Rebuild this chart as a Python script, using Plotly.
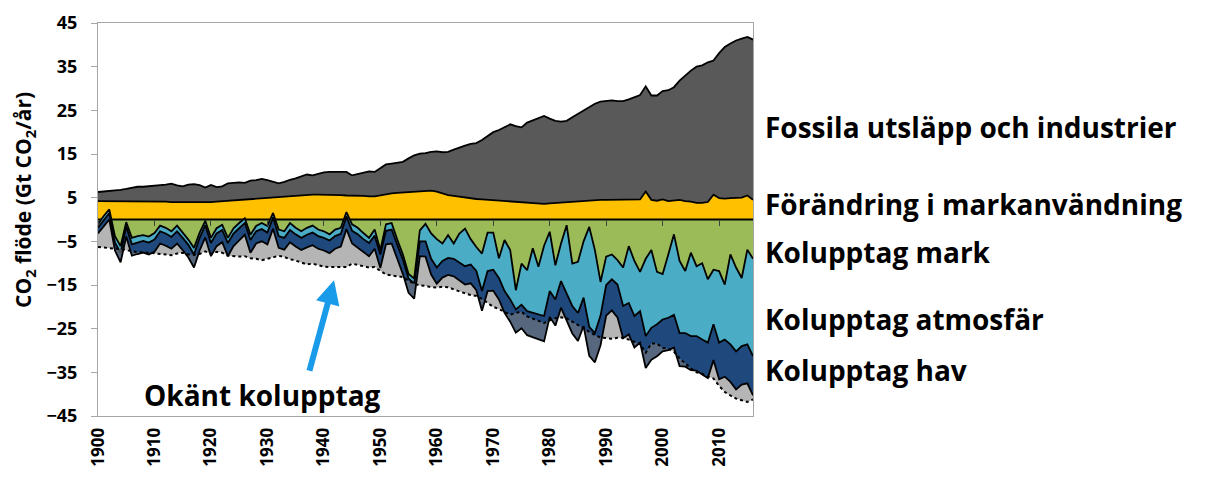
import numpy as np
import plotly.graph_objects as go

years = list(range(1900, 2017))

# Sources (Gt CO2 / year)
fossil = [
    2.1, 2.2, 2.3, 2.5, 2.6, 2.8, 3.0, 3.3, 3.3, 3.5,
    3.7, 3.7, 3.9, 4.2, 3.8, 3.6, 4.1, 4.2, 4.0, 3.4,
    3.9, 3.3, 3.4, 4.0, 4.0, 4.0, 3.8, 4.2, 4.2, 4.4,
    4.0, 3.5, 3.1, 3.3, 3.7, 3.9, 4.3, 4.7, 4.4, 4.8,
    5.1, 5.2, 5.3, 5.4, 5.4, 4.6, 5.0, 5.4, 5.7, 5.6,
    6.3, 6.8, 6.8, 6.9, 7.0, 7.7, 8.3, 8.6, 8.6, 8.9,
    9.2, 9.4, 9.9, 10.6, 11.3, 11.9, 12.4, 12.8, 13.6, 14.6,
    15.6, 16.2, 16.9, 17.7, 17.4, 17.2, 18.4, 19.0, 19.4, 20.1,
    19.4, 18.8, 18.5, 18.6, 19.3, 20.0, 20.6, 21.2, 22.1, 22.5,
    22.7, 22.8, 22.5, 22.5, 22.9, 23.4, 23.9, 24.1, 23.9, 24.1,
    24.8, 25.4, 25.9, 27.3, 28.8, 30.0, 31.2, 31.5, 32.0, 30.7,
    33.2, 34.7, 35.4, 36.1, 36.4, 36.3, 36.7,
]
land_use_change = [
    4.2, 4.2, 4.2, 4.2, 4.2, 4.2, 4.2, 4.2, 4.2, 4.1,
    4.1, 4.1, 4.1, 4.0, 4.0, 4.0, 3.9, 3.9, 3.9, 3.9,
    4.0, 4.1, 4.2, 4.3, 4.4, 4.5, 4.6, 4.7, 4.8, 4.9,
    5.0, 5.1, 5.2, 5.3, 5.4, 5.5, 5.6, 5.6, 5.7, 5.7,
    5.7, 5.7, 5.6, 5.6, 5.5, 5.5, 5.4, 5.4, 5.3, 5.3,
    5.5, 5.8, 6.0, 6.1, 6.2, 6.3, 6.4, 6.5, 6.6, 6.6,
    6.4, 6.0, 5.6, 5.4, 5.2, 5.0, 4.9, 4.7, 4.6, 4.5,
    4.4, 4.3, 4.2, 4.1, 4.0, 3.9, 3.8, 3.7, 3.7, 3.6,
    3.7, 3.8, 3.9, 4.0, 4.1, 4.2, 4.3, 4.4, 4.4, 4.5,
    4.5, 4.5, 4.6, 4.6, 4.6, 4.6, 4.6, 6.4, 4.5, 4.3,
    4.6, 4.2, 4.4, 4.5, 4.2, 4.1, 3.8, 3.8, 4.0, 5.7,
    4.9, 4.8, 4.9, 4.9, 5.0, 5.5, 4.5,
]

# Sinks (Gt CO2 / year, positive = uptake)
land_sink = [
    1.1, -0.8, -2.3, 3.8, 6.1, 0.6, 4.2, 3.8, 3.6, 3.9,
    3.1, 1.4, 1.9, 2.7, 1.4, 3.0, 4.6, 6.5, 3.0, 0.3,
    4.2, 2.0, 1.2, 4.2, 2.0, 0.8, -0.3, 3.5, 1.5, 0.8,
    1.5, -1.5, 2.3, 2.7, 0.8, 1.9, 2.7, 1.9, 1.4, 2.3,
    2.7, 3.4, 2.3, 1.9, -1.7, 1.1, 1.9, 3.1, 4.2, 2.3,
    7.0, 1.1, 0.8, 4.6, 8.0, 12.5, 13.5, 2.5, 1.0, 3.2,
    4.5, 5.5, 3.6, 5.5, 3.2, 2.1, 4.5, 6.3, 7.8, 3.0,
    3.0, 8.9, 4.7, 7.0, 16.2, 10.1, 11.6, 6.6, 10.8, 6.0,
    2.8, 10.5, 5.5, 1.3, 10.1, 9.7, 5.0, 1.7, 7.0, 14.3,
    8.5, 8.0, 9.3, 11.0, 6.1, 9.5, 12.0, 9.0, 7.0, 12.0,
    12.5, 8.0, 3.4, 9.5, 11.8, 7.6, 10.7, 10.0, 13.7, 11.5,
    11.8, 14.9, 8.0, 11.0, 13.4, 6.9, 9.0,
]
atmospheric_growth = [
    0.8, 1.0, 0.8, 1.5, 1.5, 1.0, 1.5, 1.5, 1.3, 1.4,
    1.5, 1.3, 1.3, 1.3, 1.3, 1.2, 1.2, 1.5, 1.2, 1.0,
    1.2, 1.2, 1.2, 1.2, 1.2, 1.2, 1.1, 1.2, 1.2, 1.4,
    1.5, 1.0, 1.5, 1.5, 1.6, 1.5, 1.5, 1.6, 1.6, 1.5,
    1.5, 1.4, 1.5, 1.4, 1.0, 1.5, 1.5, 1.4, 1.2, 1.4,
    1.0, 1.5, 1.5, 1.2, 1.2, 1.0, 1.2, 2.5, 4.0, 5.8,
    6.5, 4.0, 5.2, 3.5, 6.7, 8.6, 5.8, 5.5, 8.6, 8.8,
    8.5, 4.5, 11.7, 11.3, 4.4, 9.4, 9.4, 14.8, 11.0, 16.1,
    13.6, 7.8, 8.6, 15.5, 9.7, 11.7, 12.9, 22.9, 19.0, 7.7,
    6.5, 5.7, 5.6, 8.8, 13.0, 12.6, 9.0, 17.7, 17.8, 12.0,
    10.4, 14.5, 18.4, 16.5, 14.2, 19.1, 16.0, 17.5, 14.5, 12.5,
    16.4, 12.6, 20.6, 19.2, 15.6, 21.7, 22.3,
]
ocean_sink = [
    1.3, 1.4, 1.5, 1.8, 2.2, 2.3, 2.6, 2.6, 2.7, 2.7,
    2.8, 2.8, 2.8, 2.7, 2.8, 2.8, 2.9, 3.0, 2.9, 2.8,
    3.0, 2.9, 2.8, 3.0, 2.9, 2.8, 2.7, 2.9, 2.8, 2.8,
    2.7, 2.6, 2.7, 2.7, 2.8, 2.8, 2.8, 2.9, 2.9, 2.9,
    2.9, 2.9, 2.9, 2.9, 2.9, 2.9, 3.0, 3.0, 3.0, 3.0,
    3.1, 3.1, 3.2, 3.2, 3.3, 3.3, 3.4, 3.4, 3.5, 3.6,
    3.7, 3.8, 3.9, 4.0, 4.1, 4.2, 4.3, 4.4, 4.5, 4.6,
    4.8, 4.9, 5.0, 5.1, 5.3, 5.4, 5.5, 5.6, 5.7, 5.8,
    5.9, 6.0, 6.1, 6.2, 6.3, 6.4, 6.5, 6.6, 6.7, 6.8,
    7.0, 7.1, 7.5, 7.4, 7.2, 7.2, 7.2, 7.3, 7.3, 7.3,
    7.3, 7.4, 7.5, 7.6, 7.7, 7.8, 7.9, 8.0, 8.1, 8.2,
    8.4, 8.5, 8.6, 8.7, 8.8, 8.9, 9.0,
]

decade_ticks = list(range(1900, 2011, 10))
y_ticks = list(range(-45, 46, 10))

series_labels = [
    "Fossila utsläpp och industrier",
    "Förändring i markanvändning",
    "Kolupptag mark",
    "Kolupptag atmosfär",
    "Kolupptag hav",
]
label_levels = [21.1, 3.6, -7.5, -22.7, -34.5]
unknown_label = "Okänt kolupptag"
y_title = "CO<sub>2</sub> flöde (Gt CO<sub>2</sub>/år)"

# ---- derived stacks ----
x = np.array(years)
F = np.array(fossil)
U = np.array(land_use_change)
L = np.array(land_sink)
A = np.array(atmospheric_growth)
O = np.array(ocean_sink)
zero = np.zeros(len(x))

C_LUC = "#ffc000"
C_FOSSIL = "#595959"
C_LAND = "#9bbb59"
C_ATM = "#4bacc6"
C_OCEAN = "#1f497d"
C_IMB = "rgba(128,128,128,0.58)"
LW = 1.8
FONT = "Open Sans"

fig = go.Figure()

def add(y, fillcolor=None, line=None):
    fig.add_trace(go.Scatter(
        x=x, y=y, mode="lines",
        fill="tonexty" if fillcolor else None,
        fillcolor=fillcolor,
        line=line or dict(width=0, color="black"),
        hoverinfo="skip", showlegend=False,
    ))

# sources
add(zero)
add(U, C_LUC, dict(color="black", width=LW))
add(U + F, C_FOSSIL, dict(color="black", width=LW))
# sinks
add(zero, line=dict(color="black", width=LW))
add(-L, C_LAND, dict(color="black", width=LW))
add(-(L + A), C_ATM, dict(color="black", width=LW))
add(-(L + A + O), C_OCEAN, dict(color="black", width=LW))
# budget imbalance up to the (mirrored) emissions
add(-(F + U), C_IMB, dict(color="black", width=2, dash="dot"))

# tick marks on the zero line
fig.add_trace(go.Scatter(x=x, y=zero, xaxis="x2", mode="lines",
                         line=dict(width=0), hoverinfo="skip", showlegend=False))

LABEL_FONT = dict(family=FONT, size=28, color="black", weight="bold")
annotations = []
for text, lvl in zip(series_labels, label_levels):
    annotations.append(dict(
        x=1.015, xref="paper", y=lvl, yref="y", text=text, showarrow=False,
        xanchor="left", yanchor="middle", font=LABEL_FONT,
    ))
annotations.append(dict(
    x=1907.8, xref="x", y=-40.1, yref="y", text=unknown_label, showarrow=False,
    xanchor="left", yanchor="middle", font=LABEL_FONT,
))
annotations.append(dict(
    x=1941.8, y=-13.9, xref="x", yref="y", ax=-25, ay=92, axref="pixel", ayref="pixel",
    text="", showarrow=True, arrowhead=2, arrowsize=0.8, arrowwidth=6,
    arrowcolor="#1a9bea", standoff=0,
))
annotations.append(dict(
    x=-0.112, xref="paper", y=4.4, yref="y", text=y_title, showarrow=False,
    textangle=-90, xanchor="center", yanchor="middle",
    font=dict(family=FONT, size=21, color="black", weight="bold"),
))

axis_gray = "#a6a6a6"
TICK_FONT = dict(family=FONT, size=18, color="black", weight="bold")
X_TICK_FONT = dict(family=FONT, size=17, color="black", weight="bold")
fig.update_layout(
    width=1189, height=461,
    margin=dict(l=90, r=444, t=15, b=53, pad=0, autoexpand=False),
    paper_bgcolor="white", plot_bgcolor="white",
    showlegend=False,
    annotations=annotations,
    xaxis=dict(
        range=[1900, 2016], tickmode="array", tickvals=decade_ticks,
        ticktext=[str(t) for t in decade_ticks], tickangle=-90,
        tickfont=X_TICK_FONT, ticklabelstandoff=4, automargin=False,
        showline=True, linecolor=axis_gray, linewidth=1, mirror=True,
        showgrid=False, zeroline=False, ticks="",
    ),
    xaxis2=dict(
        overlaying="x", matches="x", anchor="free", position=0.5, side="bottom",
        tickmode="array", tickvals=decade_ticks, ticks="outside", ticklen=5,
        tickcolor="#404040", showticklabels=False, showline=False,
        showgrid=False, zeroline=False, automargin=False,
    ),
    yaxis=dict(
        range=[-45, 45], tickmode="array", tickvals=y_ticks,
        ticks="outside", ticklen=6, tickcolor=axis_gray,
        tickfont=TICK_FONT, ticklabelstandoff=10, automargin=False,
        showline=True, linecolor=axis_gray, linewidth=1, mirror=True,
        showgrid=False, zeroline=False,
    ),
)

fig.write_html("out.html")
